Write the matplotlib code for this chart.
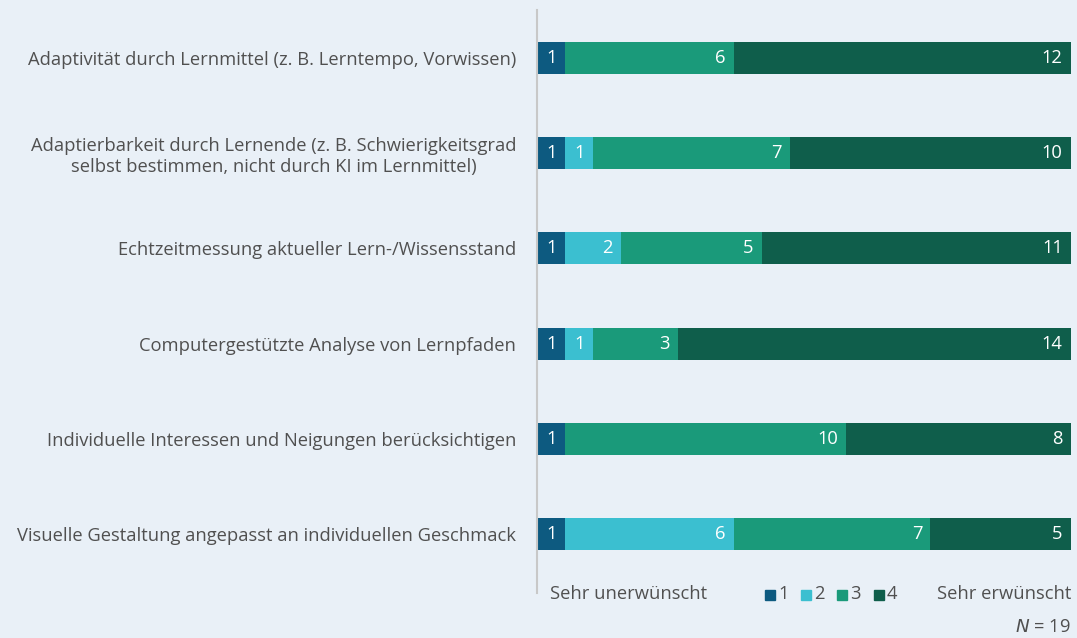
import matplotlib.pyplot as plt
import numpy as np

categories = [
    "Adaptivität durch Lernmittel (z. B. Lerntempo, Vorwissen)",
    "Adaptierbarkeit durch Lernende (z. B. Schwierigkeitsgrad\nselbst bestimmen, nicht durch KI im Lernmittel)",
    "Echtzeitmessung aktueller Lern-/Wissensstand",
    "Computergestützte Analyse von Lernpfaden",
    "Individuelle Interessen und Neigungen berücksichtigen",
    "Visuelle Gestaltung angepasst an individuellen Geschmack",
]
s1 = [1, 1, 1, 1, 1, 1]
s2 = [0, 1, 2, 1, 0, 6]
s3 = [6, 7, 5, 3, 10, 7]
s4 = [12, 10, 11, 14, 8, 5]
series_labels = ["1", "2", "3", "4"]
colors = ["#0d5a80", "#3bbfd0", "#1a9a7a", "#0f5e4b"]

plt.rcParams['font.family'] = ['Open Sans', 'DejaVu Sans']
bg = "#e9f0f7"
txt = "#505050"
fs = 13.2
fig = plt.figure(figsize=(10.77, 6.38), dpi=100, facecolor=bg)
ax = fig.add_axes([537/1077, 1-582/638, (1071-537)/1077, 572/638])
ax.set_facecolor(bg)

y = np.arange(len(categories))
data = [s1, s2, s3, s4]
left = np.zeros(len(categories))
for vals, col in zip(data, colors):
    vals = np.array(vals, dtype=float)
    ax.barh(y, vals, left=left, height=0.335, color=col, edgecolor="none")
    for yi, v, l in zip(y, vals, left):
        if v > 0:
            ax.annotate(f"{int(v)}", xy=(l+v, yi), xytext=(-6, 0), textcoords="offset points",
                        ha="right", va="center", color="white", fontsize=fs)
    left += vals

ax.set_xlim(0, 19)
ax.set_ylim(len(categories)-0.5, -0.5)
for s in ax.spines.values():
    s.set_visible(False)
ax.set_xticks([])
ax.set_yticks(y)
ax.set_yticklabels(categories, fontsize=fs, color=txt, ha="right", multialignment="center")
ax.tick_params(axis="y", length=0, pad=15)
ax.axvline(0, color="#c8c8c8", lw=1.5, ymin=-0.02, ymax=1, clip_on=False)

# legend row
ly = 1 - 594/638
fig.text(550/1077, ly, "Sehr unerwünscht", fontsize=fs, color=txt, va="center", ha="left")
fig.text(1071/1077, ly, "Sehr erwünscht", fontsize=fs, color=txt, va="center", ha="right")
xs = [765, 801, 837, 874]
for x0, col, lab in zip(xs, colors, series_labels):
    fig.patches.append(plt.Rectangle((x0/1077, ly-0.009), 10/1077, 10/638, color=col, transform=fig.transFigure))
    fig.text((x0+13)/1077, ly, lab, fontsize=fs, color=txt, va="center", ha="left")
fig.text(1071/1077, 1-627/638, r"$\it{N}$ = 19", fontsize=fs, color=txt, va="center", ha="right")

fig.savefig("out.png", dpi=100, facecolor=bg)
